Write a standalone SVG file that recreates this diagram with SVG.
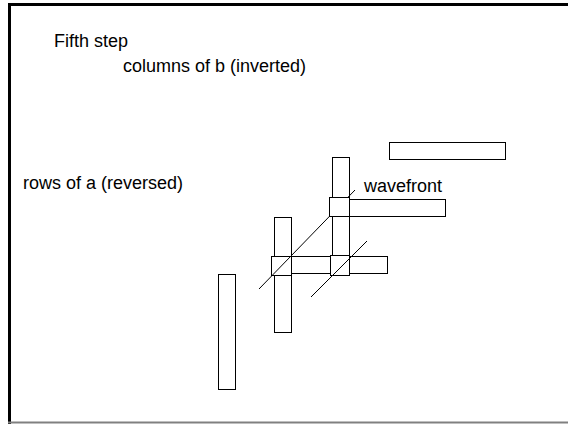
<svg xmlns="http://www.w3.org/2000/svg" width="568" height="424" viewBox="0 0 568 424">
<style>
.b{fill:#fff;stroke:#000;stroke-width:1}
.t{font-family:"Liberation Sans",Arial,sans-serif;font-size:18px;fill:#000}
.l{stroke:#000;stroke-width:1;fill:none}
</style>
<rect width="568" height="424" fill="#fff"/>
<g id="frame">
<line x1="9.5" y1="3" x2="9.5" y2="424" stroke="#000" stroke-width="3"/>
<line x1="8" y1="4.5" x2="568" y2="4.5" stroke="#000" stroke-width="3"/>
<line x1="8" y1="422.5" x2="568" y2="422.5" stroke="#808080" stroke-width="2"/>
</g>
<g id="labels">
<text class="t" x="54" y="47">Fifth step</text>
<text class="t" x="123" y="72">columns of b (inverted)</text>
<text class="t" x="23" y="189">rows of a (reversed)</text>
<text class="t" x="364" y="192">wavefront</text>
</g>
<g id="col-top"><rect class="b" x="332.5" y="157.5" width="17" height="118"/></g>
<g id="col-mid"><rect class="b" x="274.5" y="217.5" width="17" height="115"/></g>
<g id="col-low"><rect class="b" x="218.5" y="274.5" width="17" height="115"/></g>
<g id="row-top"><rect class="b" x="389.5" y="142.5" width="116" height="17"/></g>
<g id="row-mid"><rect class="b" x="349.5" y="199.5" width="96" height="17"/></g>
<g id="row-low"><rect class="b" x="274.5" y="256.5" width="113" height="17"/></g>
<g id="cell-left"><rect class="b" x="271.5" y="256.5" width="20" height="19"/></g>
<g id="cell-mid"><rect class="b" x="330.5" y="255.5" width="19" height="20"/></g>
<g id="connectors">
<line class="l" x1="259" y1="289" x2="355" y2="190"/>
<line class="l" x1="311" y1="297" x2="367" y2="241"/>
</g>
<g id="cell-top"><rect class="b" x="329.5" y="197.5" width="20" height="19"/></g>
</svg>
